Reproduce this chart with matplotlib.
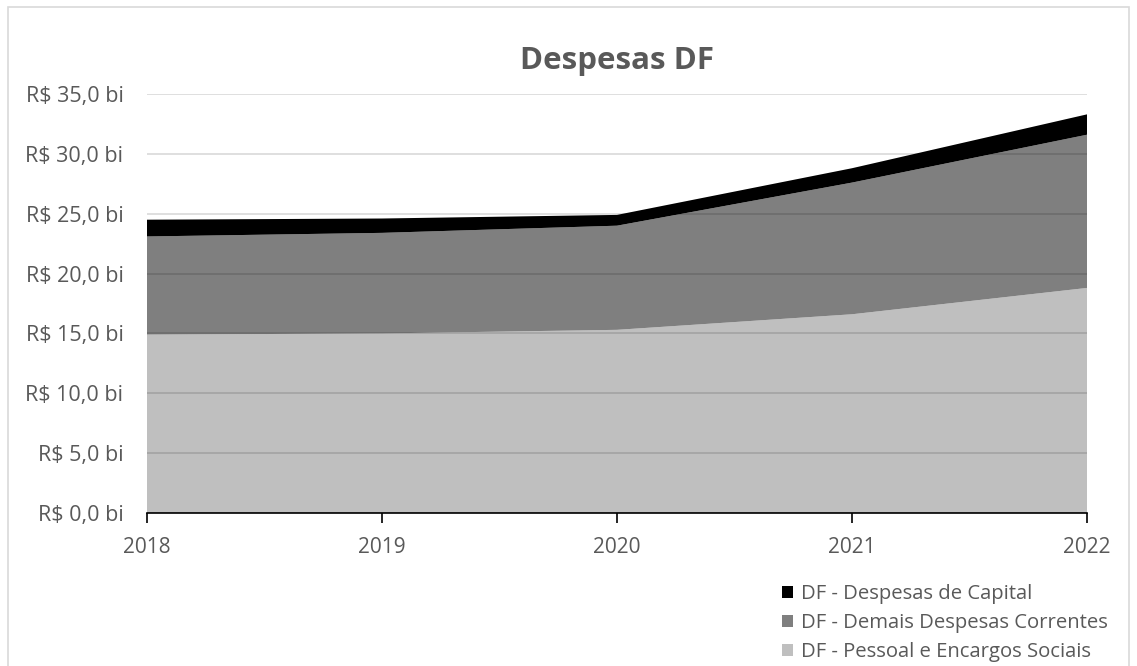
import matplotlib.pyplot as plt
from matplotlib.patches import Rectangle
from matplotlib.ticker import FuncFormatter

plt.rcParams['font.family'] = ['Open Sans', 'DejaVu Sans']

anos = [2018, 2019, 2020, 2021, 2022]
# valores em bilhoes de reais
pessoal = [14.9, 15.0, 15.3, 16.6, 18.8]
demais = [8.2, 8.4, 8.7, 11.0, 12.8]
capital = [1.4, 1.2, 0.9, 1.2, 1.7]

series = ['DF - Pessoal e Encargos Sociais', 'DF - Demais Despesas Correntes', 'DF - Despesas de Capital']
cores = ['#bfbfbf', '#7f7f7f', '#000000']
texto = '#595959'

fig = plt.figure(figsize=(11.37, 6.66), dpi=100)
fig.patches.append(Rectangle((8/1137, -0.01), 1121/1137, 1 - 7/666 + 0.01,
                             transform=fig.transFigure, fill=False,
                             edgecolor='#d9d9d9', linewidth=1.2))

ax = fig.add_axes([147/1137, 1 - 513/666, 940/1137, 419/666])
ax.stackplot(anos, pessoal, demais, capital, colors=cores, labels=series,
             linewidth=0, zorder=1)

ax.set_xlim(2018, 2022)
ax.set_ylim(0, 35)
ax.set_yticks(range(0, 36, 5))
ax.set_xticks(anos)
ax.yaxis.set_major_formatter(FuncFormatter(lambda v, p: ('R$ %.1f bi' % v).replace('.', ',')))
ax.grid(axis='y', color='#000000', alpha=0.15, linewidth=1.2, zorder=2)
ax.set_axisbelow(False)
for s in ['top', 'right', 'left']:
    ax.spines[s].set_visible(False)
ax.spines['bottom'].set_color('#000000')
ax.spines['bottom'].set_linewidth(1.2)
ax.spines['bottom'].set_zorder(3)
ax.tick_params(axis='y', length=0, pad=17, labelsize=15.5, labelcolor=texto)
ax.tick_params(axis='x', length=7, width=1.2, color='#000000', direction='out',
               pad=10, labelsize=15, labelcolor=texto)
ax.set_title('Despesas DF', fontsize=22.5, fontweight='bold', color=texto, pad=18)

h, l = ax.get_legend_handles_labels()
fig.legend(h[::-1], l[::-1], loc='upper left', bbox_to_anchor=(782/1137, 1 - 584/666),
           frameon=False, fontsize=14.6, labelcolor=texto, handlelength=0.55,
           handleheight=0.55, handletextpad=0.4, labelspacing=0.45, borderpad=0,
           borderaxespad=0)

fig.savefig('out.png', dpi=100)
